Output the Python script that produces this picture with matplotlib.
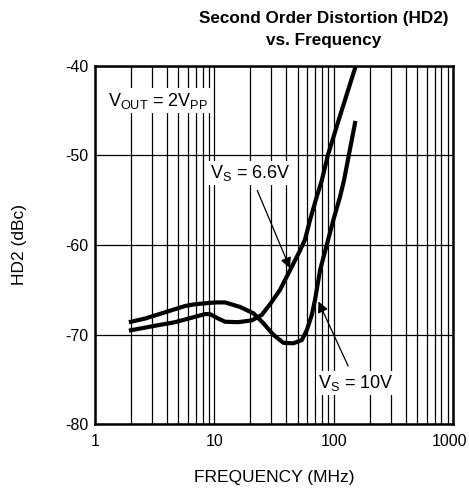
import matplotlib
matplotlib.use('Agg')
import matplotlib.pyplot as plt
import matplotlib.transforms as mtransforms
from matplotlib.ticker import NullFormatter, LogLocator

plt.rcParams['font.family'] = ['Liberation Sans', 'DejaVu Sans']
plt.rcParams['axes.unicode_minus'] = False

# Vs = 6.6V curve (MHz, dBc)
f_66 = [2.0, 3.18, 4.68, 6.89, 8.36, 9.2, 10.8, 12.3, 15.8, 20.6, 24.9, 29.3, 35.5,
        43.1, 52.3, 57.5, 63.4, 72.2, 79.5, 89.4, 113.0, 151.0]
hd2_66 = [-69.5, -69.0, -68.6, -68.0, -67.7, -67.7, -68.2, -68.55, -68.6, -68.4, -67.8, -66.6, -65.0,
          -62.8, -60.6, -59.4, -57.2, -54.6, -52.8, -50.0, -45.6, -40.3]

# Vs = 10V curve
f_10 = [2.0, 2.62, 3.86, 5.68, 6.89, 10.1, 12.3, 16.4, 21.2, 25.7, 31.2, 37.9, 45.9,
        54.0, 59.5, 65.5, 69.8, 76.9, 87.5, 99.4, 113.2, 122.0, 151.0]
hd2_10 = [-68.55, -68.2, -67.5, -66.8, -66.6, -66.4, -66.4, -66.9, -67.6, -68.7, -70.0, -70.9, -70.95,
          -70.6, -69.5, -67.8, -66.1, -62.8, -60.0, -57.2, -54.6, -52.8, -46.4]

x_ticks = [1, 10, 100, 1000]
x_labels = ['1', '10', '100', '1000']
y_ticks = [-80, -70, -60, -50, -40]

fig = plt.figure(figsize=(4.69, 4.94), dpi=100)
ax = fig.add_axes([0.2026, 0.1407, 0.7633, 0.7267])

ax.plot(f_66, hd2_66, color='black', linewidth=3, solid_joinstyle='round', zorder=3)
ax.plot(f_10, hd2_10, color='black', linewidth=3, solid_joinstyle='round', zorder=3)

ax.set_xscale('log')
ax.set_xlim(1, 1000)
ax.set_ylim(-80, -40)
ax.set_xticks(x_ticks)
ax.set_xticklabels(x_labels)
ax.xaxis.set_minor_locator(LogLocator(base=10, subs=range(2, 10)))
ax.xaxis.set_minor_formatter(NullFormatter())
ax.set_yticks(y_ticks)
ax.tick_params(axis='both', which='both', length=0, labelsize=11.5, pad=5)
ax.tick_params(axis='x', pad=7)
ax.grid(axis='x', which='both', color='black', linewidth=0.9)
ax.grid(axis='y', which='major', color='black', linewidth=0.9)
for s in ax.spines.values():
    s.set_linewidth(1.8)

# keep "1000" inside the figure edge
last = ax.get_xticklabels()[-1]
last.set_transform(last.get_transform() + mtransforms.ScaledTranslation(-4 / 100, 0, fig.dpi_scale_trans))

ax.set_xlabel('FREQUENCY (MHz)', fontsize=12.5, labelpad=15)
ax.set_ylabel('HD2 (dBc)', fontsize=12.5, labelpad=27)

box = dict(facecolor='white', edgecolor='none', pad=1.5)
ax.text(1.29, -43.9, r'V$_{\mathregular{OUT}}$ = 2V$_{\mathregular{PP}}$', fontsize=13,
        ha='left', va='center', bbox=box, zorder=4)
ax.annotate(r'V$_{\mathregular{S}}$ = 6.6V', xy=(43.1, -62.6), xytext=(19.9, -52.0),
            fontsize=13, ha='center', va='center', bbox=box, zorder=4,
            arrowprops=dict(arrowstyle='-|>', color='black', lw=0.9, mutation_scale=16,
                            shrinkA=4, shrinkB=0))
ax.annotate(r'V$_{\mathregular{S}}$ = 10V', xy=(74.5, -66.3), xytext=(154, -75.4),
            fontsize=13, ha='center', va='center', bbox=box, zorder=4,
            arrowprops=dict(arrowstyle='-|>', color='black', lw=0.9, mutation_scale=16,
                            shrinkA=4, shrinkB=0))

fig.text(324 / 469, 1 - 19 / 494, 'Second Order Distortion (HD2)',
         ha='center', va='center', fontsize=12.3, fontweight='bold')
fig.text(324 / 469, 1 - 40 / 494, 'vs. Frequency',
         ha='center', va='center', fontsize=12.3, fontweight='bold')

fig.savefig('out.png', dpi=100)
